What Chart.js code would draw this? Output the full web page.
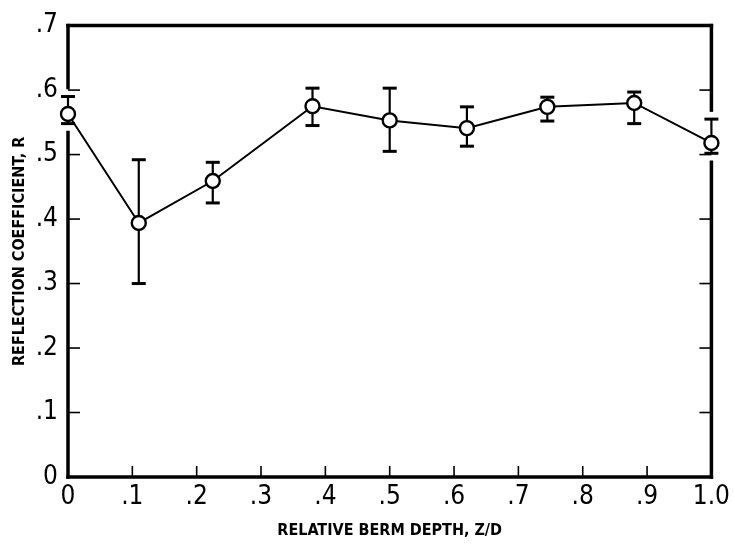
<!DOCTYPE html>
<html><head><meta charset="utf-8">
<script src="https://cdn.jsdelivr.net/npm/chart.js@4.4.1/dist/chart.umd.min.js"></script>
<style>html,body{margin:0;padding:0;background:#fff;}</style>
</head><body>
<canvas id="c" width="735" height="549"></canvas>
<script>
// ---- data ----
const depthZD      = [0, 0.11, 0.225, 0.38, 0.5, 0.62, 0.745, 0.88, 1.0];
const reflectionR  = [0.563, 0.394, 0.459, 0.575, 0.553, 0.541, 0.574, 0.580, 0.518];
const errHigh      = [0.590, 0.492, 0.488, 0.603, 0.603, 0.574, 0.589, 0.597, 0.555];
const errLow       = [0.548, 0.300, 0.425, 0.545, 0.505, 0.513, 0.552, 0.548, 0.502];
const xTickLabels  = ['0', '.1', '.2', '.3', '.4', '.5', '.6', '.7', '.8', '.9', '1.0'];
const yTickLabels  = ['0', '.1', '.2', '.3', '.4', '.5', '.6', '.7'];
const xTitle = 'RELATIVE BERM DEPTH, Z/D';
const yTitle = 'REFLECTION COEFFICIENT, R';

const points = depthZD.map((x, i) => ({ x: x, y: reflectionR[i] }));
const tickFont = { family: "'Liberation Sans Narrow', 'DejaVu Sans Condensed', sans-serif", size: 26 };
const titleFont = { family: "'Liberation Sans Narrow', 'DejaVu Sans Condensed', sans-serif", size: 16, weight: 'bold' };

function seg(ctx, x1, y1, x2, y2) { ctx.beginPath(); ctx.moveTo(x1, y1); ctx.lineTo(x2, y2); ctx.stroke(); }

const framePlugin = {
  id: 'frame',
  beforeDatasetsDraw(chart) {
    const { ctx, chartArea: a, scales: { x, y } } = chart;
    ctx.save();
    ctx.strokeStyle = '#000';
    ctx.lineCap = 'butt';
    // inward tick marks
    ctx.lineWidth = 1.6;
    x.ticks.forEach((t, i) => {
      if (i === 0 || i === x.ticks.length - 1) return;
      const px = x.getPixelForValue(t.value);
      seg(ctx, px, a.bottom, px, a.bottom - 11);
    });
    y.ticks.forEach((t, i) => {
      if (i === 0 || i === y.ticks.length - 1) return;
      const py = y.getPixelForValue(t.value);
      seg(ctx, a.left, py, a.left + 12, py);
      seg(ctx, a.right, py, a.right - 12, py);
    });
    // frame with gaps where points sit on the side axes
    ctx.lineWidth = 3.5;
    ctx.lineCap = 'square';
    seg(ctx, a.left, a.top, a.right, a.top);
    seg(ctx, a.left, a.bottom, a.right, a.bottom);
    const side = (px, val) => {
      const gaps = [];
      depthZD.forEach((d, i) => {
        if (d === val) gaps.push([y.getPixelForValue(errHigh[i]) - 9, y.getPixelForValue(errLow[i]) + 9]);
      });
      let start = a.top;
      gaps.sort((p, q) => p[0] - q[0]).forEach(g => { seg(ctx, px, start, px, g[0]); start = g[1]; });
      seg(ctx, px, start, px, a.bottom);
    };
    side(a.left, x.min);
    side(a.right, x.max);
    // error bars
    ctx.lineCap = 'butt';
    depthZD.forEach((d, i) => {
      const px = x.getPixelForValue(d);
      const ph = y.getPixelForValue(errHigh[i]);
      const pl = y.getPixelForValue(errLow[i]);
      ctx.lineWidth = 2.2;
      seg(ctx, px, ph, px, pl);
      ctx.lineWidth = 3;
      seg(ctx, px - 7, ph, px + 7, ph);
      seg(ctx, px - 7, pl, px + 7, pl);
    });
    ctx.restore();
  }
};

new Chart(document.getElementById('c'), {
  type: 'scatter',
  data: {
    datasets: [{
      data: points,
      showLine: true,
      borderColor: '#000',
      borderWidth: 2,
      pointRadius: 7,
      pointHoverRadius: 7,
      pointBackgroundColor: '#fff',
      pointBorderColor: '#000',
      pointBorderWidth: 2.4,
      clip: false
    }]
  },
  options: {
    responsive: false,
    animation: false,
    devicePixelRatio: 1,
    layout: { padding: { top: 14, right: 18, left: 0, bottom: 0 } },
    plugins: { legend: { display: false }, tooltip: { enabled: false } },
    scales: {
      x: {
        type: 'linear', min: 0, max: 1.0,
        grid: { display: false, drawTicks: false },
        border: { display: false },
        ticks: {
          stepSize: 0.1, autoSkip: false, maxRotation: 0, color: '#000', font: tickFont, padding: 5,
          callback: (v, i) => xTickLabels[i]
        },
        title: { display: true, text: xTitle, color: '#000', font: titleFont, padding: { top: 0, bottom: 9 } },
        afterFit: s => { s.height = 72; }
      },
      y: {
        type: 'linear', min: 0, max: 0.7,
        grid: { display: false, drawTicks: false },
        border: { display: false },
        ticks: {
          stepSize: 0.1, autoSkip: false, color: '#000', font: tickFont, padding: 10,
          callback: (v, i) => yTickLabels[i]
        },
        title: { display: true, text: yTitle, color: '#000', font: titleFont, padding: { top: 10, bottom: 0 } },
        afterFit: s => { s.width = 68; }
      }
    }
  },
  plugins: [framePlugin]
});
</script>
</body></html>
